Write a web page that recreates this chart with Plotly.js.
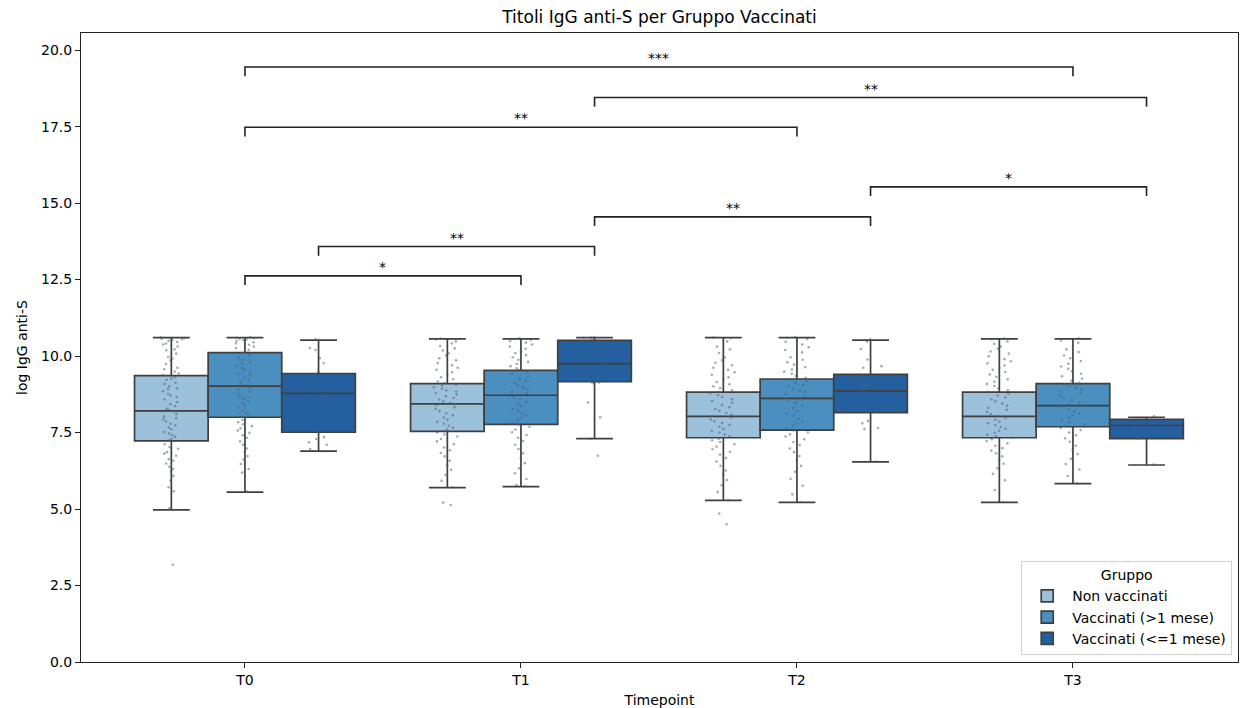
<!DOCTYPE html>
<html>
<head>
<meta charset="utf-8">
<script src="https://cdn.plot.ly/plotly-3.0.1.min.js"></script>
<style>html,body{margin:0;padding:0;background:#fff;}#chart{width:1243px;height:708px;}</style>
</head>
<body>
<div id="chart"></div>
<script>
// ---- data ----
const timepoints = ["T0", "T1", "T2", "T3"];
const groups = ["Non vaccinati", "Vaccinati (>1 mese)", "Vaccinati (<=1 mese)"];
const groupColors = ["#9bc2da", "#4b8fc0", "#2460a0"];

// box statistics per group, one value per timepoint
const q1Non = [7.23, 7.54, 7.33, 7.33];
const medNon = [8.21, 8.44, 8.03, 8.03];
const q3Non = [9.36, 9.10, 8.82, 8.82];
const lowNon = [4.97, 5.70, 5.28, 5.22];
const highNon = [10.60, 10.56, 10.60, 10.56];

const q1Old = [8.00, 7.77, 7.58, 7.69];
const medOld = [9.02, 8.72, 8.62, 8.38];
const q3Old = [10.11, 9.53, 9.25, 9.10];
const lowOld = [5.55, 5.73, 5.22, 5.83];
const highOld = [10.60, 10.56, 10.60, 10.56];

const q1New = [7.51, 9.16, 8.15, 7.30];
const medNew = [8.78, 9.75, 8.86, 7.73];
const q3New = [9.43, 10.51, 9.40, 7.93];
const lowNew = [6.89, 7.30, 6.54, 6.44];
const highNew = [10.52, 10.60, 10.52, 8.00];

// individual observations (strip points)
const ptsNonT0 = [10.61,10.59,10.57,10.55,10.53,10.50,10.46,10.41,10.38,10.31,10.22,10.19,10.08,9.97,9.91,9.86,9.74,9.62,9.57,9.49,9.43,9.38,9.31,9.27,9.22,9.13,9.09,9.01,8.94,8.92,8.85,8.77,8.71,8.66,8.58,8.49,8.43,8.37,8.28,8.24,8.19,8.11,8.03,7.97,7.93,7.86,7.79,7.74,7.66,7.61,7.52,7.47,7.41,7.36,7.29,7.24,7.12,7.03,6.97,6.86,6.81,6.74,6.63,6.58,6.49,6.38,6.31,6.22,6.09,5.93,5.71,5.58,5.02,3.18];
const ptsOldT0 = [10.62,10.60,10.58,10.56,10.54,10.52,10.49,10.45,10.41,10.37,10.31,10.26,10.20,10.14,10.09,10.03,9.95,9.88,9.81,9.76,9.69,9.61,9.55,9.48,9.42,9.36,9.29,9.22,9.15,9.08,9.03,8.97,8.91,8.83,8.76,8.68,8.61,8.53,8.46,8.38,8.31,8.22,8.14,8.06,7.98,7.91,7.84,7.77,7.71,7.64,7.57,7.49,7.41,7.33,7.21,7.10,6.98,6.87,6.73,6.62,6.47,6.31,6.19,5.57];
const ptsNewT0 = [10.55,10.53,10.26,10.20,9.93,9.77,9.48,9.40,9.28,9.22,9.16,9.08,8.82,8.78,8.66,8.59,8.43,8.05,8.03,7.52,7.35,7.29,7.18,7.10,6.96,6.89];

const ptsNonT1 = [10.57,10.54,10.48,10.41,10.33,10.25,10.18,10.09,10.02,9.93,9.86,9.77,9.70,9.62,9.55,9.47,9.39,9.31,9.24,9.17,9.12,9.07,9.03,8.98,8.93,8.88,8.84,8.79,8.74,8.69,8.63,8.58,8.52,8.47,8.43,8.39,8.33,8.27,8.20,8.13,8.06,7.99,7.92,7.85,7.79,7.72,7.66,7.60,7.55,7.50,7.44,7.37,7.29,7.21,7.12,7.01,6.92,6.83,6.72,6.58,6.43,6.28,6.11,5.92,5.71,5.21,5.13];
const ptsOldT1 = [10.58,10.56,10.53,10.49,10.44,10.38,10.31,10.24,10.16,10.09,10.03,9.96,9.88,9.81,9.74,9.67,9.60,9.54,9.48,9.41,9.33,9.26,9.19,9.11,9.04,8.97,8.90,8.83,8.77,8.71,8.65,8.58,8.51,8.44,8.36,8.28,8.20,8.13,8.05,7.97,7.90,7.83,7.76,7.69,7.60,7.51,7.42,7.33,7.22,7.10,6.96,6.82,6.67,6.50,6.33,6.17,5.98,5.78,5.74];
const ptsNewT1 = [10.62,10.61,10.60,10.59,10.36,10.11,9.93,9.75,9.58,9.52,9.44,9.38,9.31,9.22,9.14,9.11,8.48,8.00,7.30,6.74];

const ptsNonT2 = [10.61,10.58,10.48,10.31,10.22,10.10,9.95,9.86,9.78,9.70,9.62,9.55,9.47,9.39,9.31,9.24,9.15,9.08,9.01,8.95,8.88,8.83,8.78,8.72,8.66,8.59,8.53,8.47,8.40,8.33,8.27,8.21,8.14,8.08,8.04,7.99,7.93,7.87,7.81,7.75,7.69,7.62,7.56,7.50,7.44,7.38,7.34,7.30,7.25,7.19,7.12,7.04,6.96,6.87,6.78,6.67,6.55,6.41,6.26,6.11,5.95,5.78,5.56,5.29,4.85,4.50];
const ptsOldT2 = [10.62,10.60,10.56,10.47,10.38,10.29,10.20,10.12,10.04,9.96,9.88,9.80,9.72,9.64,9.56,9.49,9.42,9.35,9.29,9.24,9.18,9.12,9.06,9.00,8.94,8.88,8.82,8.75,8.68,8.62,8.55,8.47,8.39,8.31,8.22,8.13,8.04,7.95,7.87,7.79,7.71,7.64,7.57,7.51,7.44,7.37,7.28,7.19,7.09,6.98,6.86,6.73,6.58,6.41,6.22,5.99,5.76,5.48,5.23];
const ptsNewT2 = [10.55,10.47,10.23,9.89,9.67,9.62,9.18,9.10,9.05,8.96,8.86,8.83,8.66,8.33,8.18,7.88,7.80,7.65,7.62,6.55];

const ptsNonT3 = [10.57,10.55,10.48,10.40,10.31,10.24,10.15,10.08,9.99,9.90,9.83,9.76,9.69,9.61,9.55,9.48,9.40,9.32,9.24,9.16,9.09,9.02,8.95,8.88,8.83,8.77,8.71,8.65,8.58,8.52,8.45,8.38,8.31,8.24,8.17,8.10,8.04,7.98,7.92,7.86,7.80,7.74,7.68,7.62,7.56,7.49,7.43,7.37,7.33,7.28,7.22,7.15,7.07,6.99,6.91,6.82,6.72,6.61,6.48,6.33,6.15,5.94,5.62,5.23];
const ptsOldT3 = [10.58,10.56,10.52,10.43,10.31,10.22,10.13,10.02,9.93,9.84,9.75,9.66,9.58,9.50,9.42,9.34,9.26,9.19,9.13,9.08,9.02,8.96,8.90,8.84,8.77,8.70,8.63,8.56,8.49,8.42,8.37,8.32,8.26,8.19,8.12,8.05,7.98,7.91,7.84,7.77,7.71,7.65,7.58,7.50,7.41,7.31,7.20,7.07,6.94,6.80,6.64,6.47,6.29,6.08,5.84];
const ptsNewT3 = [8.03,7.93,7.73,7.58,7.30,6.45];

// significance brackets
const brStartTp = [0, 0, 1, 2, 0, 1, 0];
const brStartGroup = [1, 2, 2, 2, 1, 2, 1];
const brEndTp = [1, 1, 2, 3, 2, 3, 3];
const brEndGroup = [1, 2, 2, 2, 1, 2, 1];
const brHeight = [12.62, 13.58, 14.55, 15.53, 17.48, 18.45, 19.45];
const brLabel = ["*", "**", "**", "*", "**", "**", "***"];

// ---- build ----
const boxW = 0.8 / groups.length;
const pos = (tp, g) => tp + (g - 1) * boxW;
const tpIdx = timepoints.map((_, i) => i);

const stats = [
  [q1Non, medNon, q3Non, lowNon, highNon],
  [q1Old, medOld, q3Old, lowOld, highOld],
  [q1New, medNew, q3New, lowNew, highNew]
];
const pts = [
  [ptsNonT0, ptsNonT1, ptsNonT2, ptsNonT3],
  [ptsOldT0, ptsOldT1, ptsOldT2, ptsOldT3],
  [ptsNewT0, ptsNewT1, ptsNewT2, ptsNewT3]
];

const font = "DejaVu Sans, Liberation Sans, sans-serif";
const traces = [];
groups.forEach((name, g) => {
  const s = stats[g];
  traces.push({
    type: "box", name: name,
    x: tpIdx.map(t => pos(t, g)),
    q1: s[0], median: s[1], q3: s[2], lowerfence: s[3], upperfence: s[4],
    width: boxW, whiskerwidth: 0.5,
    fillcolor: groupColors[g],
    line: {color: "#3f3f3f", width: 1.7},
    boxpoints: false, hoverinfo: "skip"
  });
});
groups.forEach((name, g) => {
  tpIdx.forEach(t => {
    traces.push({
      type: "box", name: name, showlegend: false,
      x0: pos(t, g), y: pts[g][t],
      width: boxW, boxpoints: "all", jitter: 0.38, pointpos: 0,
      fillcolor: "rgba(0,0,0,0)", line: {width: 0, color: "rgba(0,0,0,0)"},
      marker: {size: 2.6, color: "rgba(70,92,115,0.5)"},
      hoverinfo: "y"
    });
  });
});

const tick = 0.3;
const shapes = [], annotations = [];
brLabel.forEach((lab, i) => {
  const x1 = pos(brStartTp[i], brStartGroup[i]);
  const x2 = pos(brEndTp[i], brEndGroup[i]);
  const h = brHeight[i];
  shapes.push({
    type: "path", xref: "x", yref: "y",
    path: `M ${x1},${h - tick} L ${x1},${h} L ${x2},${h} L ${x2},${h - tick}`,
    line: {color: "#222", width: 1.6}
  });
  annotations.push({
    x: (x1 + x2) / 2, y: h, xref: "x", yref: "y", text: lab,
    showarrow: false, yanchor: "bottom", yshift: -1,
    font: {family: font, size: 14, color: "#000"}
  });
});

const layout = {
  width: 1243, height: 708,
  margin: {l: 81, r: 5, t: 33, b: 46},
  paper_bgcolor: "#fff", plot_bgcolor: "#fff",
  font: {family: font, size: 14, color: "#000"},
  title: {text: "Titoli IgG anti-S per Gruppo Vaccinati", x: 0.5, xref: "paper",
          y: 1 - 17 / 708, yref: "container", yanchor: "middle",
          font: {family: font, size: 17, color: "#000"}},
  boxmode: "overlay",
  showlegend: true,
  legend: {
    title: {text: "Gruppo", side: "top center", font: {family: font, size: 14}},
    x: 0.995, y: 0.011, xanchor: "right", yanchor: "bottom",
    bgcolor: "rgba(255,255,255,0.85)", bordercolor: "#d0d0d0", borderwidth: 1,
    itemwidth: 40,
    font: {family: font, size: 14}
  },
  xaxis: {
    range: [-0.594, 3.598], tickvals: tpIdx, ticktext: timepoints,
    showgrid: false, zeroline: false, showline: true, mirror: true,
    linecolor: "#222", linewidth: 1, ticks: "outside", ticklen: 5, tickcolor: "#222",
    tickfont: {family: font, size: 14},
    title: {text: "Timepoint", font: {family: font, size: 14}, standoff: 8}
  },
  yaxis: {
    range: [0, 20.56], tickvals: [0, 2.5, 5, 7.5, 10, 12.5, 15, 17.5, 20],
    tickformat: ".1f",
    showgrid: false, zeroline: false, showline: true, mirror: true,
    linecolor: "#222", linewidth: 1, ticks: "outside", ticklen: 5, tickcolor: "#222",
    tickfont: {family: font, size: 14},
    title: {text: "log IgG anti-S", font: {family: font, size: 14}, standoff: 10}
  },
  shapes: shapes,
  annotations: annotations
};

Plotly.newPlot("chart", traces, layout, {displayModeBar: false, staticPlot: true});
</script>
</body>
</html>
